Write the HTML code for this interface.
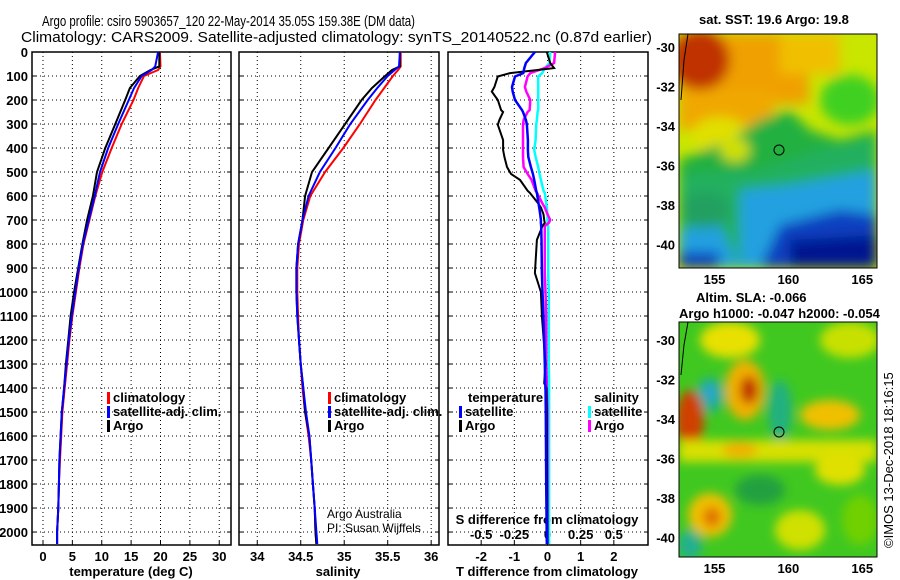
<!DOCTYPE html>
<html><head><meta charset="utf-8"><style>
body{margin:0;background:#fff}
svg{display:block;font-family:"Liberation Sans",sans-serif}
.t{font-weight:bold;font-size:13px}
</style></head><body>
<svg id="s" width="900" height="580">
<defs>
<filter id="b1" x="-50%" y="-50%" width="200%" height="200%"><feGaussianBlur stdDeviation="6"/></filter>
<filter id="b2" x="-50%" y="-50%" width="200%" height="200%"><feGaussianBlur stdDeviation="5"/></filter>
<clipPath id="cm1"><rect x="679" y="34" width="198" height="234"/></clipPath>
<clipPath id="cm2"><rect x="679" y="322" width="198" height="235"/></clipPath>
</defs>
<text x="42" y="26" font-size="15" textLength="373" lengthAdjust="spacingAndGlyphs">Argo profile: csiro 5903657_120 22-May-2014 35.05S 159.38E (DM data)</text>
<text x="21" y="42" font-size="15" textLength="631" lengthAdjust="spacingAndGlyphs">Climatology: CARS2009. Satellite-adjusted climatology: synTS_20140522.nc (0.87d earlier)</text>
<g id="g"></g>

<!-- SST map -->
<g clip-path="url(#cm1)">
<rect x="679" y="34" width="198" height="234" fill="#c8e600"/>
<g filter="url(#b1)">
<rect x="679" y="34" width="130" height="70" fill="#f0a000"/>
<rect x="679" y="90" width="95" height="40" fill="#f0a800"/>
<ellipse cx="700" cy="60" rx="30" ry="30" fill="#c03000"/>
<rect x="780" y="34" width="60" height="40" fill="#f0c000"/>
<ellipse cx="720" cy="135" rx="28" ry="18" fill="#e0e000"/>
<ellipse cx="850" cy="100" rx="30" ry="25" fill="#40d020"/>
<polygon points="679,160 730,140 760,120 790,110 810,130 840,140 877,130 877,200 800,180 679,190" fill="#20b040"/>
<polygon points="679,175 760,170 820,150 877,140 877,268 679,268" fill="#20b060"/>
<polygon points="740,190 790,185 877,170 877,268 740,268" fill="#20a0e0"/>
<polygon points="679,230 720,225 740,268 679,268" fill="#20a0e0"/>
<ellipse cx="705" cy="210" rx="25" ry="18" fill="#20a060"/>
<polygon points="780,225 840,210 877,215 877,268 760,268" fill="#1040c0"/>
<polygon points="790,240 877,235 877,268 790,268" fill="#001890"/>
<rect x="679" y="252" width="40" height="16" fill="#1040c0"/>
<ellipse cx="735" cy="150" rx="15" ry="12" fill="#d0e000"/>
</g>
<path d="M688,34 L684,60 L681,100" stroke="#000" fill="none"/>
<circle cx="779" cy="150" r="5" fill="none" stroke="#000"/>
</g>
<rect x="679" y="34" width="198" height="234" fill="none" stroke="#000"/>

<!-- SLA map -->
<g clip-path="url(#cm2)">
<rect x="679" y="322" width="198" height="235" fill="#40c820"/>
<g filter="url(#b2)">
<ellipse cx="730" cy="340" rx="30" ry="18" fill="#e8e000"/>
<ellipse cx="850" cy="340" rx="30" ry="18" fill="#c8e000"/>
<ellipse cx="745" cy="390" rx="20" ry="30" fill="#f0b000"/>
<ellipse cx="749" cy="390" rx="9" ry="14" fill="#c03000"/>
<ellipse cx="710" cy="395" rx="14" ry="18" fill="#20b090"/>
<ellipse cx="710" cy="393" rx="5" ry="8" fill="#30a0e0"/>
<ellipse cx="690" cy="420" rx="14" ry="30" fill="#d04000"/>
<ellipse cx="830" cy="415" rx="30" ry="15" fill="#f0c000"/>
<ellipse cx="780" cy="410" rx="12" ry="30" fill="#20b080"/>
<rect x="679" y="440" width="198" height="22" fill="#d8e000"/>
<ellipse cx="740" cy="450" rx="18" ry="8" fill="#f0b000"/>
<ellipse cx="710" cy="515" rx="22" ry="22" fill="#f0c000"/>
<ellipse cx="712" cy="517" rx="9" ry="10" fill="#e07000"/>
<ellipse cx="760" cy="490" rx="25" ry="15" fill="#20a040"/>
<ellipse cx="840" cy="470" rx="25" ry="15" fill="#e0e000"/>
<ellipse cx="800" cy="530" rx="25" ry="20" fill="#d0e000"/>
<ellipse cx="860" cy="520" rx="18" ry="25" fill="#70d000"/>
<ellipse cx="690" cy="545" rx="12" ry="15" fill="#20b090"/>
</g>
<path d="M688,322 L684,345 L681,375" stroke="#000" fill="none"/>
<circle cx="779" cy="432" r="5" fill="none" stroke="#000"/>
</g>
<rect x="679" y="322" width="198" height="235" fill="none" stroke="#000"/>
<text class="t" x="699" y="24">sat. SST: 19.6 Argo: 19.8</text>
<text class="t" x="696" y="302">Altim. SLA: -0.066</text>
<text class="t" x="679" y="318">Argo h1000: -0.047 h2000: -0.054</text>
<text font-size="13" transform="translate(893,548) rotate(-90)">©IMOS 13-Dec-2018 18:16:15</text>
<text x="327" y="518" font-size="12">Argo Australia</text>
<text x="327" y="532" font-size="12">PI: Susan Wijffels</text>
</svg>
<script>
// depth grid shared by profiles
const depths=[0,60,75,100,150,200,300,400,500,600,700,800,900,1000,1100,1200,1300,1400,1500,1600,1700,1800,1900,2000,2050];
const tempClim=[19.9,20,19.6,17.2,16.2,15.4,13.4,11.7,10.1,8.9,7.9,6.9,6.2,5.6,5.0,4.5,4.1,3.7,3.3,3.1,2.9,2.7,2.6,2.4,2.4];
const tempSat=[19.6,19.1,18.5,16.8,15.5,14.6,12.8,11.1,9.7,8.8,7.8,6.8,6.1,5.5,4.9,4.4,4.0,3.6,3.2,3.0,2.8,2.7,2.6,2.4,2.4];
const tempArgo=[19.8,19.8,18.3,16.5,14.8,14.0,12.3,10.6,9.2,8.5,7.5,6.7,6.0,5.3,4.7,4.3,3.9,3.6,3.2,3.0,2.8,2.7,2.6,2.4,2.4];
const salClim=[35.65,35.65,35.62,35.56,35.46,35.36,35.18,34.99,34.78,34.61,34.53,34.48,34.46,34.46,34.47,34.48,34.5,34.52,34.55,34.59,34.62,34.64,34.66,34.67,34.68];
const salSat=[35.64,35.63,35.58,35.5,35.38,35.27,35.07,34.9,34.72,34.59,34.52,34.47,34.45,34.45,34.46,34.48,34.5,34.53,34.56,34.6,34.62,34.64,34.66,34.68,34.69];
const salArgo=[35.64,35.64,35.55,35.47,35.32,35.2,35.01,34.82,34.63,34.55,34.52,34.47,34.45,34.45,34.46,34.48,34.5,34.53,34.55,34.6,34.62,34.64,34.66,34.67,34.68];
const diffDepths=[0,46,67,88,102,146,165,200,242,250,283,303,367,408,437,479,508,533,578,587,629,648,676,700,712,725,783,921,1000,1100,1300,1380,1400,1500,1800,2050];
const tDiffArgo=[-0.02,0.08,0.2,-1.13,-1.5,-1.6,-1.68,-1.5,-1.4,-1.34,-1.45,-1.5,-1.34,-1.34,-1.3,-1.22,-1.1,-0.83,-0.6,-0.53,-0.29,-0.2,-0.12,-0.1,-0.08,-0.15,-0.32,-0.38,-0.2,-0.17,-0.06,-0.1,-0.03,-0.02,-0.01,0];
const tDiffSat=[-0.38,-0.65,-0.7,-0.73,-0.98,-1.07,-1.05,-0.98,-0.77,-0.74,-0.65,-0.62,-0.59,-0.59,-0.58,-0.5,-0.44,-0.4,-0.34,-0.32,-0.27,-0.25,-0.22,-0.2,-0.2,-0.19,-0.18,-0.17,-0.15,-0.12,-0.08,-0.07,-0.06,-0.05,-0.04,-0.02];
const sDiffArgo=[0.057,0.05,-0.02,-0.13,-0.15,-0.17,-0.16,-0.13,-0.135,-0.15,-0.18,-0.185,-0.185,-0.185,-0.185,-0.18,-0.15,-0.12,-0.09,-0.08,-0.04,-0.02,0.0,0.02,0.01,-0.02,-0.02,-0.02,-0.015,-0.01,-0.01,-0.005,-0.005,0,0,0];
const sDiffSat=[0.02,0.015,-0.02,-0.04,-0.07,-0.07,-0.07,-0.07,-0.07,-0.075,-0.08,-0.085,-0.09,-0.1,-0.09,-0.07,-0.06,-0.05,-0.03,-0.02,-0.01,-0.005,0,0,0,0.005,0.005,0.005,0.01,0.01,0.01,0.012,0.012,0.012,0.012,0.012];
const depthTicks=[0,100,200,300,400,500,600,700,800,900,1000,1100,1200,1300,1400,1500,1600,1700,1800,1900,2000];
const tempTicks=[0,5,10,15,20,25,30];
const salTicks=[34,34.5,35,35.5,36];
const tdTicks=[-2,-1,0,1,2];
const sdTicks=[-0.5,-0.25,0,0.25,0.5];
const lats=[-30,-32,-34,-36,-38,-40];
const lons=[155,160,165];

const NS='http://www.w3.org/2000/svg';
const G=document.getElementById('g');
function mk(tag,attrs,parent){const e=document.createElementNS(NS,tag);for(const k in attrs)e.setAttribute(k,attrs[k]);(parent||G).appendChild(e);return e;}
function txt(x,y,s,anchor,cls){const e=mk('text',{x:x,y:y,'text-anchor':anchor||'middle','class':cls||'t'});e.textContent=s;return e;}
const yTop=52,yBot=545,dMax=2054;
function yD(d){return yTop+d/dMax*(yBot-yTop);}
const panels=[
 {x0:32,x1:231,min:-1.87,max:32.0,name:'temperature'},
 {x0:239,x1:439,min:33.79,max:36.09,name:'salinity'},
 {x0:448,x1:648,min:-3.0,max:3.03,name:'difference'}];
function xf(p,v){return p.x0+(v-p.min)/(p.max-p.min)*(p.x1-p.x0);}
function grid(p,ticks){
 ticks.forEach(v=>{const x=xf(p,v);const l=mk('line',{x1:x,x2:x,y1:yTop,y2:yBot,stroke:'#000','stroke-dasharray':'1,3'});
  
  
  mk('line',{x1:x,x2:x,y1:yBot-4,y2:yBot,stroke:'#000'});});
 depthTicks.forEach(d=>{const y=yD(d);const l=mk('line',{x1:p.x0,x2:p.x1,y1:y,y2:y,stroke:'#000','stroke-dasharray':'1,3'});
  
  
  mk('line',{x1:p.x0,x2:p.x0+4,y1:y,y2:y,stroke:'#000'});mk('line',{x1:p.x1-4,x2:p.x1,y1:y,y2:y,stroke:'#000'});});
 const r=mk('rect',{x:p.x0,y:yTop,width:p.x1-p.x0,height:yBot-yTop,fill:'none',stroke:'#000','stroke-width':1.5});
 
 
}
function line(p,vals,dep,color,w,name,scale){
 let d='';vals.forEach((v,i)=>{d+=(i?'L':'M')+xf(p,v*(scale||1)).toFixed(1)+','+yD(dep[i]).toFixed(1);});
 const e=mk('path',{d:d,fill:'none',stroke:color,'stroke-width':w||2});
 
 
}
grid(panels[0],tempTicks);grid(panels[1],salTicks);grid(panels[2],tdTicks);
depthTicks.forEach(d=>{const e=txt(28,yD(d)+5,String(d),'end');
 
 });
tempTicks.forEach(v=>{const e=txt(xf(panels[0],v),561,String(v));
 
 });
salTicks.forEach(v=>{const e=txt(xf(panels[1],v),561,String(v));
 
 });
tdTicks.forEach(v=>{const e=txt(xf(panels[2],v),561,String(v));
 
 });
sdTicks.forEach(v=>{const e=txt(xf(panels[2],v*4),539,String(v));
 
 });
let e;
e=txt(131,576,'temperature (deg C)');
e=txt(338,576,'salinity');
e=txt(547,576,'T difference from climatology');
e=txt(547,524,'S difference from climatology');

line(panels[0],tempClim,depths,'#ff0000',2,'temperature-climatology-line');
line(panels[0],tempArgo,depths,'#000000',2,'temperature-argo-line');
line(panels[0],tempSat,depths,'#0000ff',2,'temperature-satellite-line');
line(panels[1],salClim,depths,'#ff0000',2,'salinity-climatology-line');
line(panels[1],salArgo,depths,'#000000',2,'salinity-argo-line');
line(panels[1],salSat,depths,'#0000ff',2,'salinity-satellite-line');
line(panels[2],sDiffSat,diffDepths,'#00ffff',2.5,'s-diff-satellite-line',4);
line(panels[2],sDiffArgo,diffDepths,'#ff00ff',2.5,'s-diff-argo-line',4);
line(panels[2],tDiffArgo,diffDepths,'#000000',2,'t-diff-argo-line');
line(panels[2],tDiffSat,diffDepths,'#0000ff',2.5,'t-diff-satellite-line');

function leg(x,y,c,label,name){mk('rect',{x:x,y:y-10,width:3,height:12,fill:c});const t=txt(x+6,y,label,'start');
 
 }
leg(107,402,'#ff0000','climatology','legend-entry-climatology');
leg(107,416,'#0000ff','satellite-adj. clim.','legend-entry-satellite');
leg(107,430,'#000000','Argo','legend-entry-argo');
leg(328,402,'#ff0000','climatology','legend-entry-climatology-sal');
leg(328,416,'#0000ff','satellite-adj. clim.','legend-entry-satellite-sal');
leg(328,430,'#000000','Argo','legend-entry-argo-sal');
e=txt(468,402,'temperature','start');
leg(459,416,'#0000ff','satellite','legend-entry-t-satellite');
leg(459,430,'#000000','Argo','legend-entry-t-argo');
e=txt(594,402,'salinity','start');
leg(588,416,'#00ffff','satellite','legend-entry-s-satellite');
leg(588,430,'#ff00ff','Argo','legend-entry-s-argo');

// maps axes
function mapAxes(y0,y1,latTop,latBot){
 lats.forEach(la=>{const y=y0+(latTop-la)/(latTop-latBot)*(y1-y0);
  const t=txt(675,y+5,String(la),'end');
  
  
  mk('line',{x1:679,x2:683,y1:y,y2:y,stroke:'#000'});mk('line',{x1:873,x2:877,y1:y,y2:y,stroke:'#000'});});
 lons.forEach(lo=>{const x=679+(lo-152.6)/(166.0-152.6)*198;
  const t=txt(x,y1+16,String(lo));
  
  
  mk('line',{x1:x,x2:x,y1:y0,y2:y0+4,stroke:'#000'});mk('line',{x1:x,x2:x,y1:y1-4,y2:y1,stroke:'#000'});});
}
mapAxes(34,268,-29.34,-41.2);
mapAxes(322,557,-29.1,-41.0);
</script>
</body></html>
